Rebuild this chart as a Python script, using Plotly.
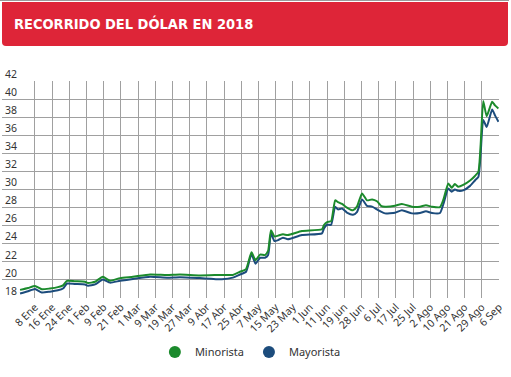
import plotly.graph_objects as go

# x positions (trading-session index) at which values were read
sessions = [0.8, 3.6, 6, 8.4, 11.2, 14.0, 15.8, 17.2, 20.0, 23.5, 24.5, 27.0, 29.7, 32.2,
            35.7, 40.2, 46.2, 52.1, 56.6, 63.6, 71.3, 75.1, 77.6, 79.7, 81.6, 83.0,
            84.6, 86.3, 87.4, 88.4, 89.6, 90.9, 92.6, 94.3, 99.2, 106.2, 106.9, 108.0,
            109.4, 110.8, 111.8, 113.2, 114.9, 117.0, 118.4, 120.2, 121.9, 123.7, 125.4,
            126.8, 128.2, 131.7, 134.1, 137.6, 140.4, 142.5, 144.6, 147.4, 148.6, 150.3,
            151.5, 152.6, 153.8, 155.5, 157.9, 159.6, 160.8, 161.6, 162.5, 163.7, 165.6,
            166.6, 167.8]

minorista = [18.9, 19.1, 19.33, 18.96, 19.05, 19.2, 19.4, 19.9, 19.85, 19.8, 19.65, 19.8,
             20.35, 19.9, 20.2, 20.35, 20.6, 20.55, 20.6, 20.5, 20.55, 20.55, 20.9, 21.2,
             23.05, 22.2, 22.8, 22.75, 23.2, 25.5, 24.8, 24.9, 25.04, 24.96, 25.4, 25.6,
             26.07, 26.4, 26.5, 28.8, 28.6, 28.4, 28.0, 27.7, 28.1, 29.57, 28.8, 28.9,
             28.7, 28.2, 28.1, 28.2, 28.4, 28.1, 28.1, 28.25, 28.1, 28.05, 28.9, 30.67,
             30.2, 30.6, 30.3, 30.5, 31.0, 31.5, 31.96, 35.0, 39.8, 38.1, 39.7, 39.3, 38.96]

mayorista = [18.5, 18.75, 19.0, 18.6, 18.7, 18.85, 19.05, 19.6, 19.55, 19.5, 19.35, 19.5,
             20.05, 19.7, 19.9, 20.1, 20.35, 20.25, 20.3, 20.2, 20.07, 20.25, 20.6, 20.9,
             22.85, 21.8, 22.45, 22.45, 22.75, 25.15, 24.3, 24.4, 24.67, 24.5, 24.96, 25.15,
             25.7, 26.1, 26.1, 28.1, 27.8, 27.9, 27.45, 27.2, 27.5, 28.9, 28.2, 28.1,
             27.8, 27.55, 27.36, 27.43, 27.7, 27.36, 27.4, 27.6, 27.4, 27.4, 28.4, 30.1,
             29.75, 30.0, 29.85, 29.9, 30.4, 31.0, 31.4, 34.0, 37.7, 36.9, 38.85, 38.2, 37.5]

tick_labels = ["8 Ene", "16 Ene", "24 Ene", "1 Feb", "9 Feb", "21 Feb", "1 Mar", "9 Mar",
               "19 Mar", "27 Mar", "9 Abr", "17 Abr", "25 Abr", "7 May", "15 May", "23 May",
               "1 Jun", "11 Jun", "19 jun", "28 Jun", "6 Jul", "17 Jul", "25 Jul", "2 Ago",
               "10 Ago", "21 Ago", "29 Ago", "6 Sep"]
tick_pos = [6 * (i + 1) for i in range(len(tick_labels))]
y_ticks = list(range(18, 43, 2))

GREEN = "#1b8a2c"
BLUE = "#1c4c7c"
FONT = "Noto Sans"

W, H = 511, 377
ML, MR, MT, MB = 2, 12, 81, 79
pw, ph = W - ML - MR, H - MT - MB


def px(x):
    return (x - ML) / pw


def py(y):
    return (H - MB - y) / ph


fig = go.Figure()
fig.add_trace(go.Scatter(x=sessions, y=mayorista, mode="lines",
                         line=dict(color=BLUE, width=2, shape="spline", smoothing=0.5),
                         showlegend=False, hoverinfo="skip", cliponaxis=False))
fig.add_trace(go.Scatter(x=sessions, y=minorista, mode="lines",
                         line=dict(color=GREEN, width=2, shape="spline", smoothing=0.5),
                         showlegend=False, hoverinfo="skip", cliponaxis=False))
# legend entries
fig.add_trace(go.Scatter(x=[None], y=[None], mode="markers", name="Minorista",
                         marker=dict(color=GREEN, size=12, symbol="circle")))
fig.add_trace(go.Scatter(x=[None], y=[None], mode="markers", name="Mayorista",
                         marker=dict(color=BLUE, size=12, symbol="circle")))

bx0, bx1, by0, by1 = px(2), px(508), py(46), py(2)
rpx, rpy = 4 / pw, 4 / ph
banner = (f"M {bx0},{by1} L {bx1},{by1} L {bx1},{by0+rpy} Q {bx1},{by0} {bx1-rpx},{by0} "
          f"L {bx0+rpx},{by0} Q {bx0},{by0} {bx0},{by0+rpy} Z")

fig.update_layout(
    width=W, height=H,
    margin=dict(l=ML, r=MR, t=MT, b=MB, autoexpand=False),
    paper_bgcolor="white", plot_bgcolor="white",
    font=dict(family=FONT, color="#333333", size=11),
    xaxis=dict(range=[-5.5, 168], tickvals=tick_pos, ticktext=tick_labels, tickangle=-45,
               showgrid=True, gridcolor="#a0a0a0", gridwidth=1, zeroline=False,
               showline=False, ticks="", automargin=False,
               tickfont=dict(size=10.5, color="#333333")),
    yaxis=dict(range=[18, 42], tickvals=y_ticks, showgrid=True, gridcolor="#a0a0a0",
               gridwidth=1, zeroline=False, showline=False, ticks="", automargin=False,
               ticklabelposition="inside", ticklabelshift=-7, ticklabeloverflow="allow",
               tickfont=dict(size=10.5, color="#333333")),
    legend=dict(orientation="h", x=0.49, xanchor="center", xref="container",
                y=1 - 352 / H, yanchor="middle", yref="container",
                font=dict(size=11, color="#333333", family=FONT), itemwidth=30),
    shapes=[
        dict(type="path", path=banner, xref="paper", yref="paper",
             fillcolor="#de2538", line=dict(width=0), layer="above"),
        dict(type="line", xref="paper", yref="paper", x0=px(0), x1=px(509), y0=py(0.5), y1=py(0.5),
             line=dict(color="#9a9a9a", width=1)),
    ],
    annotations=[
        dict(text="<b>RECORRIDO DEL DÓLAR EN 2018</b>", xref="paper", yref="paper",
             x=px(12), y=py(24), xanchor="left", yanchor="middle", showarrow=False,
             font=dict(family="DejaVu Sans Condensed, sans-serif", size=14.5, color="white")),
    ],
)

fig.write_html("out.html", config={"displayModeBar": False},
               post_script="document.body.style.margin='0';")
